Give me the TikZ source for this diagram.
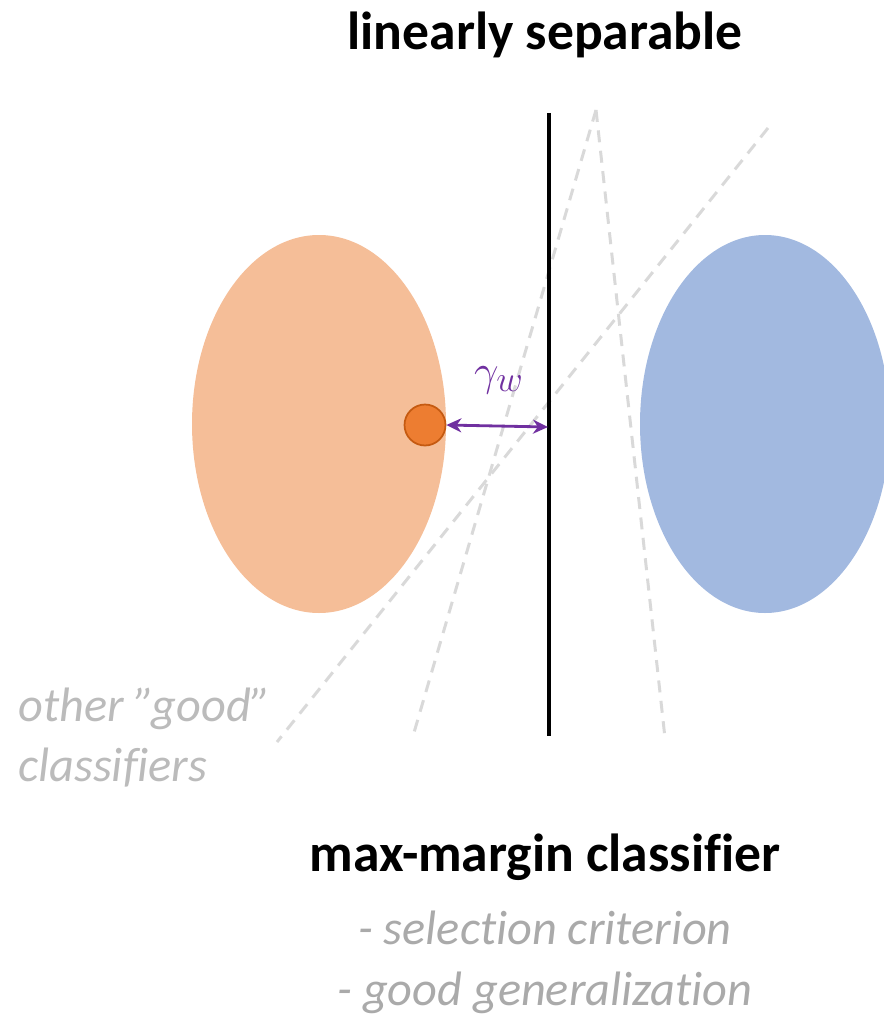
\documentclass[tikz,border=0pt]{standalone}
\usepackage{fontspec}
\setmainfont{Carlito}[Ligatures=NoCommon]
\usepackage{tikz}
\usetikzlibrary{arrows.meta, positioning}
\definecolor{clsorange}{RGB}{245,190,152}
\definecolor{clsblue}{RGB}{162,185,224}
\definecolor{ptorange}{RGB}{237,125,49}
\definecolor{ptedge}{RGB}{197,90,17}
\definecolor{marginpurple}{RGB}{112,48,160}
\definecolor{dashgray}{RGB}{217,217,217}
\definecolor{notegray}{RGB}{170,170,170}

\begin{document}
\begin{tikzpicture}[x=0.02cm, y=-0.02cm,
        title/.style={font=\fontsize{30.5}{36}\selectfont\bfseries, inner sep=0pt},
        note/.style={font=\fontsize{27.5}{33}\selectfont\itshape, text=notegray, inner sep=0pt},
        other/.style={dashgray, line width=1.7pt, dash pattern=on 0.24cm off 0.17cm},
        marginarrow/.style={{Stealth[length=0.3cm, width=0.28cm]}-{Stealth[length=0.3cm, width=0.28cm]},
                            marginpurple, line width=1.6pt},
    ]
        \useasboundingbox (0,0) rectangle (884,1017);

        % Classes
        \fill[clsorange] (319,424) ellipse [x radius=127, y radius=189];
        \fill[clsblue] (765,424) ellipse [x radius=125, y radius=189];

        % Other classifiers
        \coordinate (apex) at (596,110);
        \coordinate (leftfoot) at (413,736);
        \coordinate (rightfoot) at (665,738);
        \coordinate (slopetop) at (768,128);
        \coordinate (slopefoot) at (277,742);
        \draw[other] (apex) -- (leftfoot);
        \draw[other] (apex) -- (rightfoot);
        \draw[other] (slopetop) -- (slopefoot);

        % Max-margin classifier
        \coordinate (sep top) at (549,113);
        \coordinate (sep bottom) at (549,736);
        \draw[black, line width=2.3pt] (sep top) -- (sep bottom);

        % Closest point and margin
        \node[circle, fill=ptorange, draw=ptedge, line width=1pt, minimum size=0.82cm, inner sep=0pt]
            (closest) at (425,425) {};
        \coordinate (foot) at (548,427);
        \draw[marginarrow] (closest.east) -- (foot);
        \node[text=marginpurple, font=\fontsize{32}{36}\selectfont, inner sep=0pt] (gamma) at (499,380)
            {$\gamma_w$};

        % Texts
        \node[title] (sep label) at (545,35) {linearly separable};
        \node[note, text=notegray!80, anchor=north west, align=left] (other label) at (18,688)
            {other ”good”\\[1pt]classifiers};
        \node[title] (mm label) at (545,857) {max-margin classifier};
        \node[note] (crit) at (545,928) {- selection criterion};
        \node[note] (gen) at (545,993) {- good generalization};
    \end{tikzpicture}
\end{document}
